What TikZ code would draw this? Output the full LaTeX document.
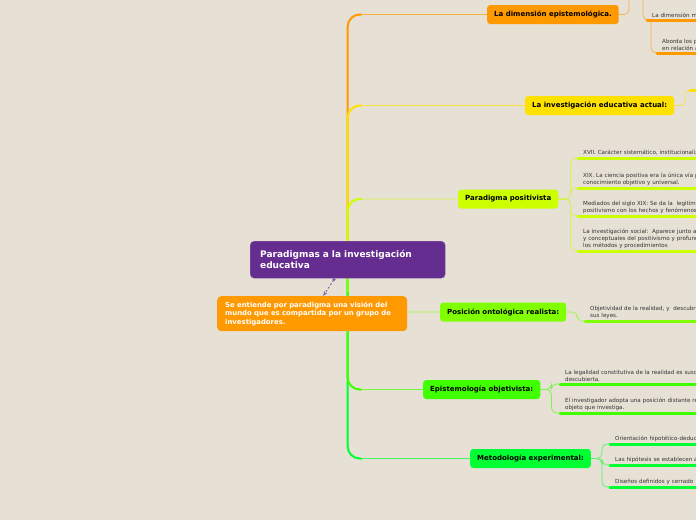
\documentclass[tikz,border=0pt]{standalone}
\usepackage{fontspec}
\setmainfont{DejaVu Sans}
\usepackage{xcolor}
\usetikzlibrary{arrows.meta,positioning,backgrounds,calc}
\definecolor{mbg}{HTML}{E6E0D5}
\definecolor{mpurple}{HTML}{662D91}
\definecolor{morange}{HTML}{FF9900}
\definecolor{myellow}{HTML}{FFE100}
\definecolor{mlime}{HTML}{CCFF00}
\definecolor{mchart}{HTML}{80FF00}
\definecolor{mgreen}{HTML}{40FF00}
\definecolor{mmint}{HTML}{00FF33}
\definecolor{mtext}{HTML}{333333}

\begin{document}
\begin{tikzpicture}[x=1pt,y=-1pt,
    topic/.style={fill=#1,rounded corners=3pt,anchor=west,minimum height=19pt,
      inner xsep=7pt,inner ysep=0pt,font=\fontsize{7}{8}\bfseries\selectfont},
    leaf/.style={anchor=south west,text width=200pt,align=left,inner xsep=5pt,
      inner ysep=2.5pt,text=mtext,font=\fontsize{5.6}{7}\selectfont},
    uline/.style={#1,line width=3pt,line cap=round},
    trunk/.style={#1,line width=2pt,rounded corners=12pt},
    branch/.style={#1!70!mbg,line width=0.8pt,rounded corners=12pt},
    twig/.style={#1!65!mbg,line width=0.7pt,rounded corners=5pt}]
  \useasboundingbox (0,0) rectangle (696,520);
  \clip (0,0) rectangle (696,520);

  % Central topic and note
  \node[fill=mpurple,draw=mpurple!75!white,rounded corners=4pt,anchor=north west,
        minimum width=195pt,minimum height=37pt,text width=175pt,inner xsep=10pt,
        align=left,text=white,font=\fontsize{9}{11}\bfseries\selectfont]
    (main) at (250,241) {Paradigmas a la investigación\\educativa};
  \node[fill=morange,rounded corners=4pt,anchor=north west,minimum width=190pt,
        minimum height=35pt,text width=174pt,inner xsep=8pt,align=left,text=white,
        font=\fontsize{6.9}{8.5}\bfseries\selectfont]
    (note) at (217,296) {Se entiende por paradigma una visión del\\mundo que es compartida por un grupo de\\investigadores.};

  % Main topics
  \node[topic=morange] (dim) at (487,14.5) {La dimensión epistemológica.};
  \node[topic=myellow] (inv) at (525,105.5) {La investigación educativa actual:};
  \node[topic=mlime] (pos) at (458,199) {Paradigma positivista};
  \node[topic=mchart] (ont) at (440,312) {Posición ontológica realista:};
  \node[topic=mgreen] (epi) at (423,389.5) {Epistemología objetivista:};
  \node[topic=mmint] (met) at (470,458.5) {Metodología experimental:};

  % Subtopics
  \node[leaf] (dm) at (647,20) {La dimensión m};
  \node[leaf] (ab) at (657,53) {Aborda los p\\en relación a};
  \coordinate (up1) at (629,-5);
  \coordinate (up2) at (643,-5);
  \coordinate (inv1) at (690,90);

  \node[leaf] (p1) at (578,158) {XVII. Carácter sistemático, institucionaliza};
  \node[leaf] (p2) at (578,188) {XIX. La ciencia positiva era la única vía p\\conocimiento objetivo y universal.};
  \node[leaf] (p3) at (578,216) {Mediados del siglo XIX: Se da la\ \ legitimi\\positivismo con los hechos y fenómenos};
  \node[leaf] (p4) at (578,251) {La investigación social:\ \ Aparece junto a\\y conceptuales del positivismo y profunda\\los métodos y procedimientos};

  \node[leaf] (o1) at (585,321) {Objetividad de la realidad, y\ \ descubri\\sus leyes.};

  \node[leaf] (e1) at (560,384) {La legalidad constitutiva de la realidad es susce\\descubierta.};
  \node[leaf] (e2) at (560,413) {El investigador adopta una posición distante res\\objeto que investiga.};

  \node[leaf] (m1) at (610,444) {Orientación hipotético-deduct};
  \node[leaf] (m2) at (610,465) {Las hipótesis se establecen a};
  \node[leaf] (m3) at (610,487) {Diseños definidos y cerrado};

  \begin{scope}[on background layer]
    \fill[mbg] (0,0) rectangle (696,520);
    % Branches
    \draw[branch=morange] (main.center) |- (dim.west);
    \draw[branch=myellow] (main.center) |- (inv.west);
    \draw[branch=mlime] (main.center) |- (pos.west);
    \draw[branch=mchart] (main.center) |- (ont.west);
    \draw[branch=mgreen] (main.center) |- (epi.west);
    \draw[branch=mmint] (main.center) |- (met.west);
    % Trunk
    \draw[trunk=morange] (main.center) |- ($(main.center |- dim.west)+(14,0)$);
    \draw[trunk=myellow] (main.center) |- ($(main.center |- inv.west)+(14,0)$);
    \draw[trunk=mlime] (main.center) |- ($(main.center |- pos.west)+(14,0)$);
    \draw[trunk=mmint] (main.center) |- ($(main.center |- met.west)+(14,0)$);
    \draw[trunk=mgreen] (main.center) |- ($(main.center |- epi.west)+(14,0)$);
    \draw[trunk=mchart] (main.center) -- ($(main.center |- ont.west)+(0,-20)$);

    % Twigs
    \draw[twig=morange] (dim.east) -| (up1);
    \draw[twig=morange] (up2) |- (dm.south west);
    \draw[twig=morange] ([xshift=4pt]dm.south west) |- (ab.south west);
    \draw[twig=myellow] (inv.east) -- ++(11,0) |- (inv1);
    \foreach \c in {p1,p2,p3,p4}
      \draw[twig=mlime] (pos.east) -- ++(12,0) |- (\c.south west);
    \draw[twig=mchart] (ont.east) -- ++(11,0) |- (o1.south west);
    \foreach \c in {e1,e2}
      \draw[twig=mgreen] (epi.east) -- ++(11,0) |- (\c.south west);
    \foreach \c in {m1,m2,m3}
      \draw[twig=mmint] (met.east) -- ++(11,0) |- (\c.south west);
  \end{scope}

  % Underlines
  \foreach \c in {dm,ab}
    \draw[uline=morange] (\c.south west) -- (\c.south east);
  \draw[uline=myellow] (inv1) -- ++(20,0);
  \foreach \c in {p1,p2,p3,p4}
    \draw[uline=mlime] (\c.south west) -- (\c.south east);
  \draw[uline=mchart] (o1.south west) -- (o1.south east);
  \foreach \c in {e1,e2}
    \draw[uline=mgreen] (\c.south west) -- (\c.south east);
  \foreach \c in {m1,m2,m3}
    \draw[uline=mmint] (\c.south west) -- (\c.south east);

  % Note link
  \draw[mpurple!75!white,line width=1pt,dash pattern=on 2pt off 2pt,
        {Square[length=2.5pt]}-{Stealth[length=5pt]}]
    ([xshift=-13pt]main.south) -- ([xshift=11pt]note.north);
\end{tikzpicture}
\end{document}
